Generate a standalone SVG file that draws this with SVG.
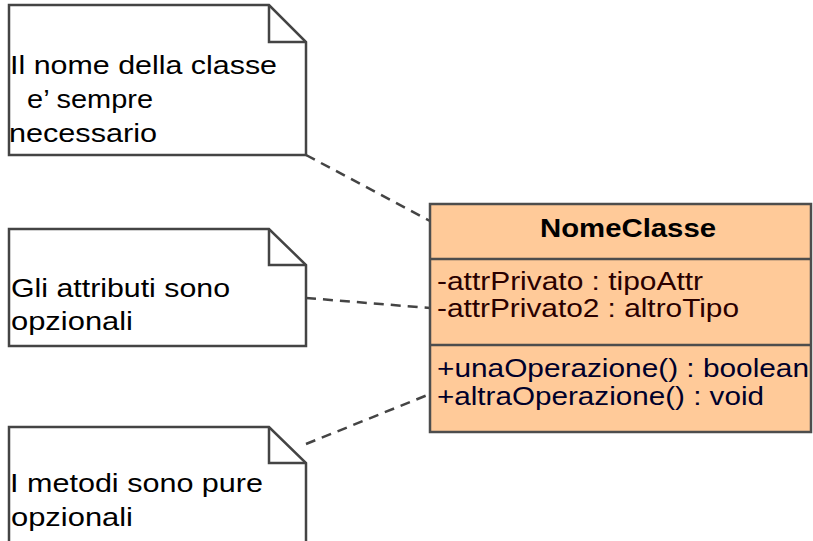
<svg xmlns="http://www.w3.org/2000/svg" width="813" height="541" viewBox="0 0 813 541">
  <style>
    .note { fill: #ffffff; stroke: #444444; stroke-width: 2.5; stroke-linejoin: miter; }
    .fold { fill: none; stroke: #444444; stroke-width: 2.5; }
    .txt { font-family: "Liberation Sans", Arial, Helvetica, sans-serif; font-size: 26px; fill: #000000; }
    .cls { fill: #ffca99; stroke: #4d4d4d; stroke-width: 2.5; }
    .sep { stroke: #4d4d4d; stroke-width: 2.5; }
    .title { font-weight: bold; text-anchor: middle; }
    .attr { fill: #2a0000; }
    .op { fill: #00002a; }
    .link { fill: none; stroke: #444444; stroke-width: 2.5; stroke-dasharray: 10 7; }
  </style>

  <g id="connectors">
    <line class="link" x1="306" y1="155" x2="430" y2="221"/>
    <line class="link" x1="306" y1="298" x2="430" y2="308"/>
    <line class="link" x1="306" y1="444" x2="430" y2="394"/>
  </g>

  <g id="note-nome">
    <path class="note" d="M9,5 H269 L306,42 V155 H9 Z"/>
    <path class="fold" d="M269,5 V42 H306"/>
    <text class="txt" x="10" y="74" textLength="267" lengthAdjust="spacingAndGlyphs">Il nome della classe</text>
    <text class="txt" x="19" y="108" textLength="134" lengthAdjust="spacingAndGlyphs" xml:space="preserve"> e’ sempre</text>
    <text class="txt" x="9" y="142" textLength="148" lengthAdjust="spacingAndGlyphs">necessario</text>
  </g>

  <g id="note-attributi">
    <path class="note" d="M9,229 H269 L306,265 V346 H9 Z"/>
    <path class="fold" d="M269,229 V265 H306"/>
    <text class="txt" x="11" y="297" textLength="219" lengthAdjust="spacingAndGlyphs">Gli attributi sono</text>
    <text class="txt" x="11" y="330" textLength="122" lengthAdjust="spacingAndGlyphs">opzionali</text>
  </g>

  <g id="note-metodi">
    <path class="note" d="M9,427 H269 L306,463 V548 H9 Z"/>
    <path class="fold" d="M269,427 V463 H306"/>
    <text class="txt" x="10" y="492" textLength="253" lengthAdjust="spacingAndGlyphs">I metodi sono pure</text>
    <text class="txt" x="11" y="526" textLength="122" lengthAdjust="spacingAndGlyphs">opzionali</text>
  </g>

  <g id="class-NomeClasse">
    <rect class="cls" x="430" y="204" width="381" height="228"/>
    <line class="sep" x1="430" y1="259" x2="811" y2="259"/>
    <line class="sep" x1="430" y1="345" x2="811" y2="345"/>
    <text class="txt title" x="628" y="237" textLength="176" lengthAdjust="spacingAndGlyphs">NomeClasse</text>
    <text class="txt attr" x="437" y="290" textLength="266" lengthAdjust="spacingAndGlyphs">-attrPrivato : tipoAttr</text>
    <text class="txt attr" x="437" y="317" textLength="302" lengthAdjust="spacingAndGlyphs">-attrPrivato2 : altroTipo</text>
    <text class="txt op" x="437" y="377" textLength="372" lengthAdjust="spacingAndGlyphs">+unaOperazione() : boolean</text>
    <text class="txt op" x="437" y="405" textLength="327" lengthAdjust="spacingAndGlyphs">+altraOperazione() : void</text>
  </g>
</svg>
